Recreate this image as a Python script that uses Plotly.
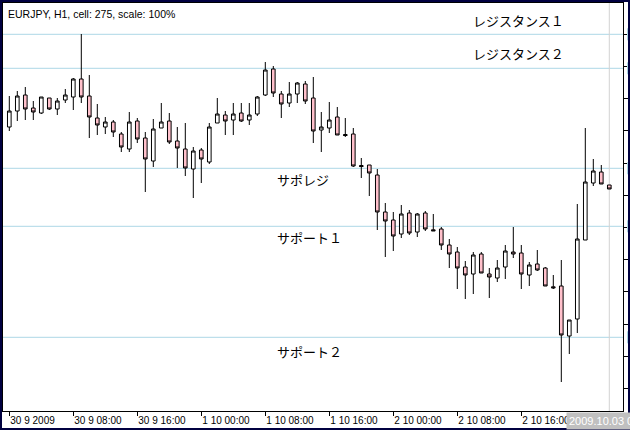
import pandas as pd
import plotly.graph_objects as go

# ---------------- data ----------------
times = pd.date_range("2009-09-30 00:00", periods=76, freq="h")

open_ = [131.73, 131.89, 132.05, 131.92, 131.87, 132.02, 131.91, 132.00, 132.03, 132.21,
         132.04, 131.82, 131.73, 131.78, 131.66, 131.51, 131.79, 131.62, 131.39, 131.72,
         131.79, 131.59, 131.51, 131.31, 131.50, 131.38, 131.77, 131.85, 131.80, 131.87,
         131.80, 131.86, 132.05, 132.31, 132.06, 131.97, 132.06, 132.16, 132.02, 131.70,
         131.72, 131.83, 131.655, 131.66, 131.345, 131.35, 131.25, 130.88, 130.80, 130.66,
         130.87, 130.68, 130.87, 130.702, 130.71, 130.55, 130.48, 130.33, 130.26, 130.46,
         130.26, 130.22, 130.33, 130.48, 130.47, 130.25, 130.36, 130.32, 130.132, 130.14,
         129.64, 129.81, 130.60, 131.17, 131.28, 131.15]
high = [132.04, 132.09, 132.13, 131.99, 132.03, 132.02, 132.02, 132.11, 132.22, 132.66,
        132.25, 131.96, 131.83, 131.80, 131.68, 131.88, 131.82, 131.68, 131.81, 131.97,
        131.87, 131.73, 131.77, 131.53, 131.52, 131.77, 132.02, 131.89, 131.97, 131.97,
        131.97, 132.04, 132.38, 132.34, 132.09, 132.18, 132.18, 132.19, 132.23, 131.88,
        131.98, 131.93, 131.82, 131.72, 131.42, 131.35, 131.31, 130.97, 130.88, 130.95,
        130.90, 130.87, 130.89, 130.86, 130.73, 130.61, 130.53, 130.39, 130.48, 130.48,
        130.32, 130.40, 130.55, 130.73, 130.55, 130.38, 130.50, 130.33, 130.25, 130.40,
        129.80, 130.96, 131.72, 131.41, 131.35, 131.15]
low = [131.69, 131.79, 131.80, 131.80, 131.86, 131.90, 131.85, 131.97, 131.90, 131.97,
       131.62, 131.65, 131.66, 131.63, 131.48, 131.48, 131.57, 131.08, 131.33, 131.72,
       131.56, 131.32, 131.24, 131.02, 131.17, 131.36, 131.77, 131.65, 131.65, 131.78,
       131.75, 131.84, 132.04, 132.03, 131.82, 131.93, 131.97, 131.96, 131.57, 131.48,
       131.67, 131.65, 131.63, 131.33, 131.22, 131.04, 130.70, 130.43, 130.49, 130.62,
       130.65, 130.63, 130.69, 130.69, 130.50, 130.32, 130.11, 130.01, 130.06, 130.27,
       130.02, 130.18, 130.21, 130.42, 130.11, 130.14, 130.29, 130.14, 130.11, 129.18,
       129.46, 129.67, 130.60, 131.14, 131.16, 131.11]
close = [131.89, 132.04, 131.91, 131.88, 132.03, 131.91, 131.99, 132.05, 132.21, 132.03,
         131.83, 131.75, 131.78, 131.68, 131.53, 131.78, 131.61, 131.41, 131.71, 131.78,
         131.58, 131.52, 131.32, 131.49, 131.41, 131.73, 131.86, 131.79, 131.86, 131.79,
         131.85, 132.03, 132.30, 132.07, 131.96, 132.06, 132.17, 131.99, 131.69, 131.73,
         131.80, 131.65, 131.645, 131.34, 131.335, 131.27, 130.88, 130.79, 130.64, 130.86,
         130.67, 130.86, 130.71, 130.692, 130.55, 130.46, 130.32, 130.25, 130.45, 130.27,
         130.23, 130.32, 130.49, 130.46, 130.26, 130.35, 130.30, 130.14, 130.122, 129.65,
         129.80, 130.61, 131.18, 131.29, 131.16, 131.11]

tick_times = ["2009-09-30 00:00", "2009-09-30 08:00", "2009-09-30 16:00",
              "2009-10-01 00:00", "2009-10-01 08:00", "2009-10-01 16:00",
              "2009-10-02 00:00", "2009-10-02 08:00", "2009-10-02 16:00"]
tick_labels = ["30 9 2009", "30 9 08:00", "30 9 16:00", "1 10 00:00", "1 10 08:00",
               "1 10 16:00", "2 10 00:00", "2 10 08:00", "2 10 16:00"]

level_names = ["レジスタンス１", "レジスタンス２", "サポレジ", "サポート１", "サポート２"]
level_prices = [132.657, 132.317, 131.317, 130.737, 129.627]
label_times = ["2009-10-02 09:45", "2009-10-02 09:45", "2009-10-01 09:15",
               "2009-10-01 09:15", "2009-10-01 09:15"]
label_prices = [132.80, 132.47, 131.21, 130.63, 129.49]

vline_time = "2009-10-03 03:00"
vline_label = "2009.10.03 03:00"
title_text = "EURJPY, H1, cell: 275, scale: 100%"

# ---------------- layout helpers ----------------
W, H = 630, 430
L, R, T, B = 3, 7, 3, 19
PW, PH = W - L - R, H - T - B


def px(x):
    return (x - L) / PW


def py(y):
    return (H - B - y) / PH


fig = go.Figure(go.Candlestick(
    x=times, open=open_, high=high, low=low, close=close,
    increasing=dict(fillcolor="white", line=dict(color="black", width=1)),
    decreasing=dict(fillcolor="pink", line=dict(color="black", width=1)),
    whiskerwidth=0, hoverinfo="skip", showlegend=False,
))

shapes = []
for p in level_prices:
    shapes.append(dict(type="line", xref="paper", x0=0, x1=1, yref="y", y0=p, y1=p,
                       line=dict(color="lightblue", width=1), layer="below"))
    shapes.append(dict(type="rect", xref="paper", x0=px(627), x1=px(629.5), yref="y",
                       y0=p - 0.06, y1=p + 0.06, line=dict(width=0),
                       fillcolor="lightblue", layer="above"))
shapes.append(dict(type="line", xref="x", x0=vline_time, x1=vline_time, yref="paper",
                   y0=0, y1=1, line=dict(color="lightgray", width=1), layer="below"))
# outer frame
shapes.append(dict(type="rect", xref="paper", yref="paper", x0=px(1), x1=px(629),
                   y0=py(429), y1=py(1), line=dict(color="#000040", width=2),
                   fillcolor="rgba(0,0,0,0)", layer="above"))

annotations = []
for name, t, p in zip(level_names, label_times, label_prices):
    annotations.append(dict(x=t, y=p, xref="x", yref="y", text=name, showarrow=False,
                            xanchor="left", yanchor="middle",
                            font=dict(family="Noto Sans CJK JP", size=13, color="black")))
annotations.append(dict(x=px(6), y=py(14), xref="paper", yref="paper", text=title_text,
                        showarrow=False, xanchor="left", yanchor="middle",
                        font=dict(family="Liberation Sans, Arial", size=10.5, color="black")))
annotations.append(dict(x=px(566), y=py(421), xref="paper", yref="paper", text=vline_label,
                        showarrow=False, xanchor="left", yanchor="middle",
                        bgcolor="#c0c0c0", borderpad=2,
                        font=dict(family="Liberation Sans, Arial", size=11, color="white")))

fig.update_layout(
    width=W, height=H,
    margin=dict(l=L, r=R, t=T, b=B),
    paper_bgcolor="white", plot_bgcolor="white",
    showlegend=False, boxgap=0.35, hovermode=False,
    shapes=shapes, annotations=annotations,
    xaxis=dict(
        type="date", range=["2009-09-29 23:12:45", "2009-10-03 04:42:45"],
        rangeslider=dict(visible=False),
        showgrid=False, zeroline=False,
        showline=True, mirror=True, linecolor="black", linewidth=1,
        ticks="outside", ticklen=4, tickcolor="black", tickwidth=1,
        tickvals=tick_times, ticktext=tick_labels,
        ticklabelposition="outside right",
        tickfont=dict(family="Liberation Sans, Arial", size=10, color="black"),
    ),
    yaxis=dict(
        range=[128.89, 132.97], side="right",
        showgrid=False, zeroline=False,
        showline=True, mirror=True, linecolor="black", linewidth=1,
        ticks="outside", ticklen=4, tickcolor="black", tickwidth=1,
        tick0=132.657, dtick=0.322, showticklabels=False,
    ),
)

fig.write_html("out.html", config={"displayModeBar": False, "staticPlot": True},
               post_script="document.body.style.margin='0px';")
